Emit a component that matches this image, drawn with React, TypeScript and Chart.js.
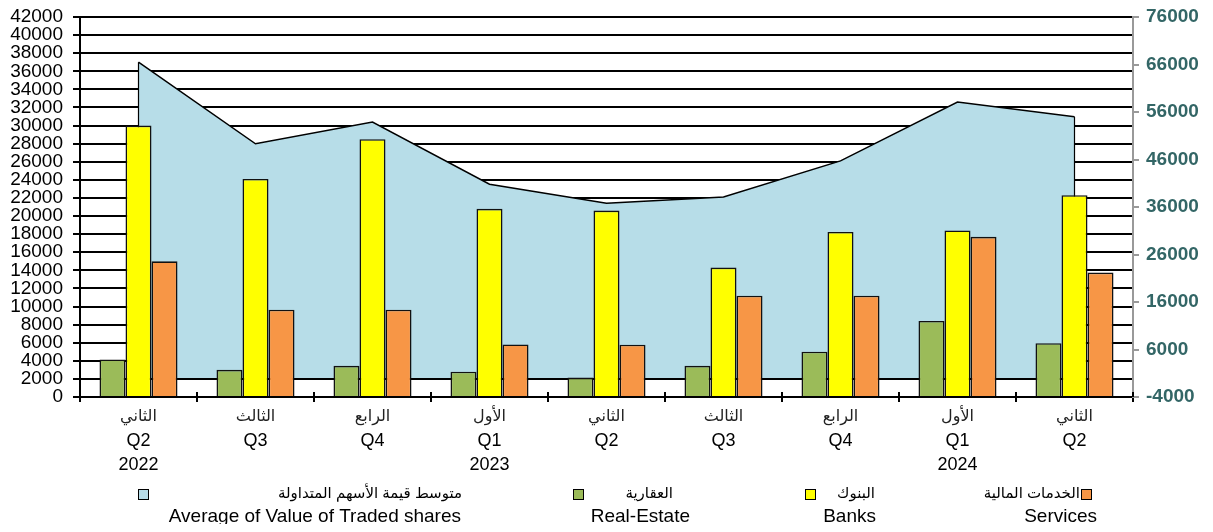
import React, { useEffect, useRef } from "react";
import { Chart, registerables } from "chart.js";
Chart.register(...registerables);

const categories: string[][] = [
  ["الثاني", "Q2", "2022"],
  ["الثالث", "Q3"],
  ["الرابع", "Q4"],
  ["الأول", "Q1", "2023"],
  ["الثاني", "Q2"],
  ["الثالث", "Q3"],
  ["الرابع", "Q4"],
  ["الأول", "Q1", "2024"],
  ["الثاني", "Q2"],
];
const averageTraded = [66500, 49300, 53900, 40800, 36800, 38100, 45700, 58100, 55000];
const realEstate = [4150, 3000, 3450, 2800, 2150, 3450, 5000, 8400, 5950];
const banks = [30000, 24100, 28500, 20800, 20600, 14300, 18250, 18400, 22300];
const services = [15000, 9650, 9650, 5800, 5780, 11200, 11200, 17700, 13750];

const legendArabic = ["متوسط قيمة الأسهم المتداولة", "العقارية", "البنوك", "الخدمات المالية"];
const legendEnglish = ["Average of Value of Traded shares", "Real-Estate", "Banks", "Services"];
const seriesColors = ["#B7DDE8", "#9BBB59", "#FFFF00", "#F79646"];

const FONT = "'Liberation Sans', Arial, 'DejaVu Sans', sans-serif";

// legend layout (canvas coordinates)
const legendSquareX = [135, 570, 802, 1078];
const legendArabicRight = [454, 665, 867, 1072];
const legendEnglishRight = [453, 682, 868, 1089];

const areaEdgesPlugin = {
  id: "areaEdges",
  afterDatasetDraw(chart: any, args: any) {
    if (args.index !== 0) return;
    const meta = chart.getDatasetMeta(0);
    const pts = meta.data;
    if (!pts.length) return;
    const y0 = chart.scales.y1.getPixelForValue(0);
    const ctx = chart.ctx;
    ctx.save();
    ctx.strokeStyle = "#000";
    ctx.lineWidth = 1.2;
    ctx.beginPath();
    const f = pts[0];
    const l = pts[pts.length - 1];
    ctx.moveTo(f.x, f.y);
    ctx.lineTo(f.x, y0);
    ctx.moveTo(l.x, l.y);
    ctx.lineTo(l.x, y0);
    ctx.stroke();
    ctx.restore();
  },
};

const extrasPlugin = {
  id: "extras",
  afterDraw(chart: any) {
    const ctx = chart.ctx;
    const area = chart.chartArea;
    const xs = chart.scales.x;
    const n = categories.length;
    ctx.save();
    // upper half of crossing x ticks
    ctx.strokeStyle = "#000";
    ctx.lineWidth = 2;
    ctx.beginPath();
    for (let i = 0; i <= n; i++) {
      const x = Math.round(xs.left + (i * (xs.right - xs.left)) / n);
      ctx.moveTo(x, area.bottom - 5);
      ctx.lineTo(x, area.bottom);
    }
    ctx.stroke();
    // x category labels (three lines, Arabic smaller)
    ctx.textAlign = "center";
    ctx.textBaseline = "middle";
    const lineY = [area.bottom + 20, area.bottom + 44, area.bottom + 68];
    for (let i = 0; i < n; i++) {
      const x = xs.getPixelForTick(i);
      const lines = categories[i];
      for (let j = 0; j < lines.length; j++) {
        ctx.fillStyle = j === 0 ? "#222" : "#000";
        ctx.font = j === 0 ? `16px ${FONT}` : `18px ${FONT}`;
        ctx.fillText(lines[j], x, lineY[j]);
      }
    }
    // legend
    const yAr = 486;
    const yEn = 509;
    for (let i = 0; i < legendArabic.length; i++) {
      ctx.fillStyle = seriesColors[i];
      ctx.fillRect(legendSquareX[i] - 5, yAr - 5, 10, 10);
      ctx.strokeStyle = "#000";
      ctx.lineWidth = 1;
      ctx.strokeRect(legendSquareX[i] - 5 + 0.5, yAr - 5 + 0.5, 10, 10);
      ctx.fillStyle = "#000";
      ctx.textBaseline = "middle";
      ctx.textAlign = "right";
      ctx.font = `15px ${FONT}`;
      ctx.fillText(legendArabic[i], legendArabicRight[i], yAr);
      ctx.font = `19px ${FONT}`;
      ctx.fillText(legendEnglish[i], legendEnglishRight[i], yEn);
    }
    ctx.restore();
  },
};

const plain = (v: any) => String(v);

export default function App() {
  const ref = useRef<HTMLCanvasElement | null>(null);
  useEffect(() => {
    if (!ref.current) return;
    const barCommon = {
      type: "bar",
      yAxisID: "y",
      borderColor: "#111",
      borderWidth: 1.6,
      categoryPercentage: 0.667,
      barPercentage: 1,
      order: 1,
    };
    const chart = new Chart(ref.current, {
      data: {
        labels: categories.map((c) => c.join(" ")),
        datasets: [
          {
            type: "line",
            label: legendEnglish[0],
            data: averageTraded,
            yAxisID: "y1",
            borderColor: "#000",
            borderWidth: 1.5,
            backgroundColor: seriesColors[0],
            fill: "origin",
            pointRadius: 0,
            tension: 0,
            order: 2,
          },
          { ...barCommon, label: legendEnglish[1], data: realEstate, backgroundColor: seriesColors[1] },
          { ...barCommon, label: legendEnglish[2], data: banks, backgroundColor: seriesColors[2] },
          { ...barCommon, label: legendEnglish[3], data: services, backgroundColor: seriesColors[3] },
        ],
      },
      options: {
        responsive: false,
        animation: false,
        events: [],
        layout: { padding: { top: 9, left: 0, right: 0, bottom: 0 } },
        plugins: { legend: { display: false }, tooltip: { enabled: false } },
        scales: {
          x: {
            type: "category",
            offset: true,
            grid: {
              offset: true,
              drawOnChartArea: false,
              drawTicks: true,
              tickLength: 5,
              color: "#000",
              lineWidth: 2,
            },
            border: { display: true, color: "#000", width: 2 },
            ticks: { display: false },
            afterFit(scale: any) {
              scale.height = 127;
            },
          },
          y: {
            position: "left",
            min: 0,
            max: 42000,
            grid: { color: "#000", lineWidth: 2, tickLength: 7 },
            border: { display: true, color: "#000", width: 2 },
            ticks: {
              stepSize: 2000,
              autoSkip: false,
              color: "#000",
              padding: 10,
              callback: plain,
              font: { family: FONT, size: 19, lineHeight: 0.9 },
            },
            afterFit(scale: any) {
              scale.width = 72;
              scale.paddingTop = 0;
              scale.paddingBottom = 0;
            },
          },
          y1: {
            position: "right",
            min: -4000,
            max: 76000,
            grid: { drawOnChartArea: false, color: "#999", lineWidth: 2, tickLength: 6 },
            border: { display: true, color: "#999", width: 2 },
            ticks: {
              stepSize: 10000,
              autoSkip: false,
              color: "#336666",
              padding: 7,
              callback: plain,
              font: { family: FONT, size: 19, weight: "bold", lineHeight: 0.9 },
            },
            afterFit(scale: any) {
              scale.width = 72;
              scale.paddingTop = 0;
              scale.paddingBottom = 0;
            },
          },
        },
      },
      plugins: [areaEdgesPlugin, extrasPlugin],
    } as any);
    return () => chart.destroy();
  }, []);
  return (
    <div style={{ width: 1197, height: 516, position: "relative" }}>
      <canvas ref={ref} width={1197} height={516} style={{ display: "block" }} />
    </div>
  );
}
